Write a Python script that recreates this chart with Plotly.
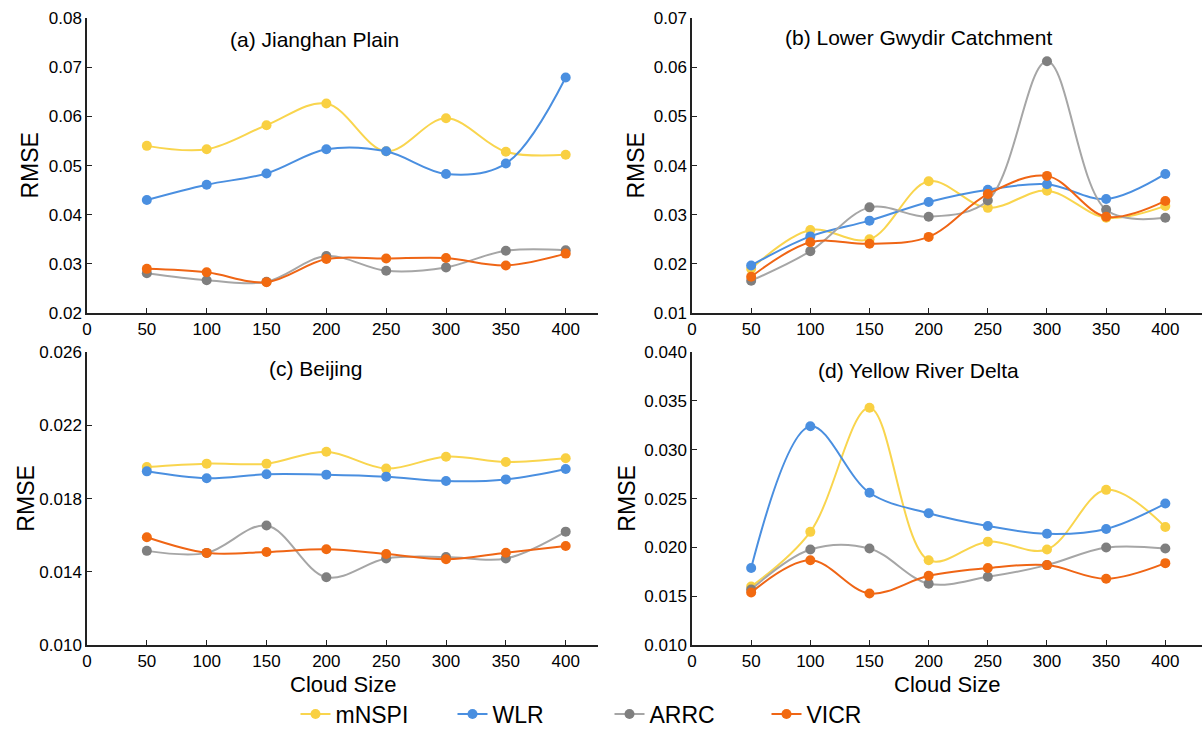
import plotly.graph_objects as go

cloud_size = [50, 100, 150, 200, 250, 300, 350, 400]
methods = ["mNSPI", "WLR", "ARRC", "VICR"]

# (a) Jianghan Plain
a_mnspi = [0.0540, 0.0533, 0.0582, 0.0626, 0.0529, 0.0596, 0.0528, 0.0522]
a_wlr   = [0.0430, 0.0461, 0.0484, 0.0533, 0.0529, 0.0483, 0.0504, 0.0679]
a_arrc  = [0.0281, 0.0267, 0.0264, 0.0316, 0.0286, 0.0293, 0.0327, 0.0328]
a_vicr  = [0.0290, 0.0283, 0.0263, 0.0310, 0.0311, 0.0312, 0.0297, 0.0321]

# (b) Lower Gwydir Catchment
b_mnspi = [0.0190, 0.0269, 0.0250, 0.0368, 0.0314, 0.0349, 0.0294, 0.0318]
b_wlr   = [0.0197, 0.0256, 0.0288, 0.0326, 0.0351, 0.0362, 0.0332, 0.0383]
b_arrc  = [0.0166, 0.0226, 0.0315, 0.0296, 0.0329, 0.0612, 0.0310, 0.0294]
b_vicr  = [0.0174, 0.0244, 0.0241, 0.0255, 0.0342, 0.0379, 0.0296, 0.0328]

# (c) Beijing
c_mnspi = [0.01973, 0.01991, 0.01991, 0.02056, 0.01964, 0.02029, 0.02000, 0.02020]
c_wlr   = [0.01949, 0.01911, 0.01933, 0.01931, 0.01920, 0.01896, 0.01905, 0.01962]
c_arrc  = [0.01515, 0.01504, 0.01653, 0.01371, 0.01473, 0.01482, 0.01473, 0.01620]
c_vicr  = [0.01589, 0.01504, 0.01509, 0.01524, 0.01498, 0.01469, 0.01505, 0.01542]

# (d) Yellow River Delta
d_mnspi = [0.0160, 0.0216, 0.0343, 0.0187, 0.0206, 0.0198, 0.0259, 0.0221]
d_wlr   = [0.0179, 0.0324, 0.0256, 0.0235, 0.0222, 0.0214, 0.0219, 0.0245]
d_arrc  = [0.0157, 0.0198, 0.0199, 0.0163, 0.0170, 0.0182, 0.0200, 0.0199]
d_vicr  = [0.0154, 0.0187, 0.0153, 0.0171, 0.0179, 0.0182, 0.0168, 0.0184]

panel_titles = ["(a) Jianghan Plain", "(b) Lower Gwydir Catchment", "(c) Beijing", "(d) Yellow River Delta"]
x_ticks = [0, 50, 100, 150, 200, 250, 300, 350, 400]
x_title = "Cloud Size"
y_title = "RMSE"

panels = [
    [a_mnspi, a_wlr, a_arrc, a_vicr],
    [b_mnspi, b_wlr, b_arrc, b_vicr],
    [c_mnspi, c_wlr, c_arrc, c_vicr],
    [d_mnspi, d_wlr, d_arrc, d_vicr],
]
y_ticks = [
    [0.02, 0.03, 0.04, 0.05, 0.06, 0.07, 0.08],
    [0.01, 0.02, 0.03, 0.04, 0.05, 0.06, 0.07],
    [0.010, 0.014, 0.018, 0.022, 0.026],
    [0.010, 0.015, 0.020, 0.025, 0.030, 0.035, 0.040],
]
y_fmt = [".2f", ".2f", ".3f", ".3f"]

line_colors = ["#F9D54E", "#4A8FE0", "#A6A6A6", "#EF6515"]
marker_colors = ["#F9D042", "#4A8FE0", "#7F7F7F", "#F26A10"]

FONT = "Liberation Sans, Arial, sans-serif"
W, H = 1203, 736

# pixel geometry of the panels
x_px = [(87, 598), (692, 1202), (87, 598), (692, 1202)]
y_px = [(18, 314), (18, 314), (353, 647), (353, 647)]
x_max = [427, 431, 427, 431]
title_px = [(314, 40), (918, 38), (315, 370), (918, 372)]
rmse_x_px = [30, 636, 26, 627]

fig = go.Figure()
layout = dict(
    width=W, height=H,
    margin=dict(l=0, r=0, t=0, b=0),
    paper_bgcolor="white", plot_bgcolor="white",
    font=dict(family=FONT, color="black"),
    showlegend=True,
    legend=dict(orientation="h", x=0.5 + 8 / W, xanchor="center", y=1 - 716 / H, yanchor="middle",
                font=dict(size=23, family=FONT), tracegroupgap=0,
                entrywidth=112, entrywidthmode="pixels"),
)

annotations = []
for i, series in enumerate(panels):
    xa = "x" if i == 0 else f"x{i+1}"
    ya = "y" if i == 0 else f"y{i+1}"
    for j, vals in enumerate(series):
        fig.add_trace(go.Scatter(
            x=cloud_size, y=vals, name=methods[j], xaxis=xa, yaxis=ya,
            mode="lines+markers",
            line=dict(color=line_colors[j], width=2, shape="spline", smoothing=1.0),
            marker=dict(color=marker_colors[j], size=10),
            showlegend=(i == 0), legendgroup=methods[j],
        ))
    xkey = "xaxis" if i == 0 else f"xaxis{i+1}"
    ykey = "yaxis" if i == 0 else f"yaxis{i+1}"
    xd = [x_px[i][0] / W, x_px[i][1] / W]
    yd = [1 - y_px[i][1] / H, 1 - y_px[i][0] / H]
    layout[xkey] = dict(
        domain=xd, anchor=ya, range=[0, x_max[i]], automargin=False,
        tickvals=x_ticks, ticktext=[str(t) for t in x_ticks],
        showline=True, linecolor="#222", linewidth=1.5,
        ticks="inside", ticklen=5, tickcolor="#222",
        showgrid=False, zeroline=False,
        tickfont=dict(size=17, family=FONT),
    )
    yt = y_ticks[i]
    layout[ykey] = dict(
        domain=yd, anchor=xa, range=[yt[0], yt[-1]], automargin=False,
        tickvals=yt, ticktext=[format(v, y_fmt[i]) for v in yt],
        showline=True, linecolor="#222", linewidth=1.5,
        ticks="inside", ticklen=5, tickcolor="#222",
        showgrid=False, zeroline=False,
        tickfont=dict(size=17, family=FONT),
    )
    annotations.append(dict(
        text=panel_titles[i], xref="paper", yref="paper",
        x=title_px[i][0] / W, y=1 - title_px[i][1] / H,
        xanchor="center", yanchor="middle", showarrow=False,
        font=dict(size=21, family=FONT),
    ))
    annotations.append(dict(
        text=y_title, xref="paper", yref="paper", textangle=-90,
        x=rmse_x_px[i] / W, y=(yd[0] + yd[1]) / 2,
        xanchor="center", yanchor="middle", showarrow=False,
        font=dict(size=23, family=FONT),
    ))
    if i >= 2:
        annotations.append(dict(
            text=x_title, xref="paper", yref="paper",
            x=(xd[0] + xd[1]) / 2, y=1 - 686 / H,
            xanchor="center", yanchor="middle", showarrow=False,
            font=dict(size=22, family=FONT),
        ))

layout["annotations"] = annotations
fig.update_layout(**layout)
fig.write_html("out.html", config={"displayModeBar": False},
               post_script="document.body.style.margin='0';document.body.style.overflow='hidden';")
